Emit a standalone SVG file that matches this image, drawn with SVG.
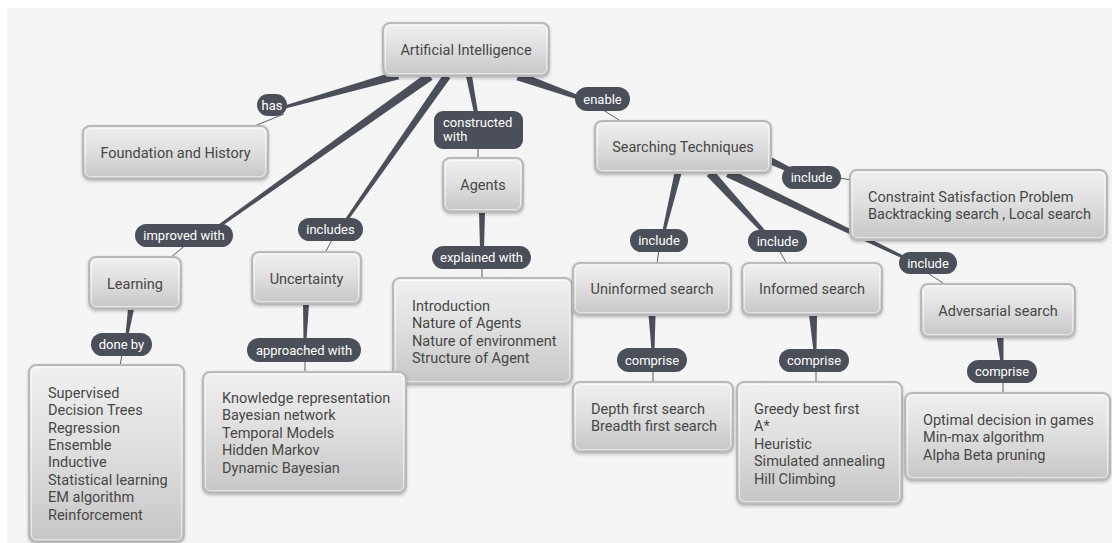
<svg xmlns="http://www.w3.org/2000/svg" width="1112" height="543" viewBox="0 0 1112 543">
<defs>
<pattern id="dots" width="4" height="4" patternUnits="userSpaceOnUse">
<rect width="4" height="4" fill="#f6f6f6"/>
<rect x="1" y="1" width="1" height="1" fill="#ebebeb"/>
<rect x="3" y="3" width="1" height="1" fill="#ededed"/>
</pattern>
<linearGradient id="g" x1="0" y1="0" x2="0" y2="1">
<stop offset="0" stop-color="#f0f0f0"/>
<stop offset="0.45" stop-color="#e0e0e0"/>
<stop offset="1" stop-color="#c6c6c6"/>
</linearGradient>
<filter id="sh" x="-10%" y="-10%" width="120%" height="130%">
<feDropShadow dx="0" dy="1.5" stdDeviation="1.5" flood-color="#000" flood-opacity="0.22"/>
</filter>
<style>
.b{fill:url(#g);stroke:#b9b9b9;stroke-width:2;filter:url(#sh)}
.i{fill:none;stroke:#ffffff;stroke-opacity:0.55;stroke-width:1}
.t{font-family:Roboto,"Liberation Sans",sans-serif;font-size:14.5px;fill:#474747}
.c{text-anchor:middle}
.lb{fill:#4b4f5a}
.lt{font-family:Roboto,"Liberation Sans",sans-serif;font-size:13px;fill:#ffffff;text-anchor:middle}
.w{fill:#4b4f5a}
.th{stroke:#5b5f69;stroke-width:1;fill:none}
</style>
</defs>
<rect width="1112" height="543" fill="#ffffff"/>
<rect x="7" y="8" width="1105" height="535" fill="url(#dots)"/>

<g id="connectors">
<polygon class="w" points="396.8,70.7 284.6,105.6 285.4,108.4 399.2,79.3"/>
<line class="th" x1="284" y1="114" x2="252" y2="127"/>
<polygon class="w" points="427.4,72.3 214.1,227.8 215.9,230.2 432.6,79.7"/>
<line class="th" x1="188" y1="243" x2="170" y2="258"/>
<polygon class="w" points="443.7,73.7 343.8,221.1 346.2,222.9 450.3,78.3"/>
<line class="th" x1="334" y1="236" x2="325" y2="253"/>
<polygon class="w" points="466.05,76.56 474.04,113.37 477.96,112.63 471.95,75.44"/>
<line class="th" x1="478" y1="146" x2="478" y2="159"/>
<polygon class="w" points="516.5,80.2 579.3,99.9 580.7,96.1 519.5,71.8"/>
<line class="th" x1="600" y1="108" x2="622" y2="122"/>
<polygon class="w" points="479,212 480,248 484,248 485,212"/>
<line class="th" x1="482" y1="266" x2="482" y2="279"/>
<polygon class="w" points="128,309 125.5,335 128.5,335 134,309"/>
<line class="th" x1="122" y1="354" x2="120" y2="366"/>
<polygon class="w" points="303,304 303.5,340 306.5,340 309,304"/>
<line class="th" x1="305" y1="359" x2="305" y2="373"/>
<polygon class="w" points="674.6,172.2 662.5,230.6 665.5,231.4 681.4,173.8"/>
<line class="th" x1="659" y1="249" x2="657" y2="264"/>
<polygon class="w" points="706.7,176 762.5,233.4 765.5,230.7 713.3,170"/>
<line class="th" x1="779" y1="250" x2="787" y2="264"/>
<polygon class="w" points="769.5,164.2 788.9,172.3 791.1,167.7 772.5,157.8"/>
<line class="th" x1="839" y1="178" x2="852" y2="180"/>
<polygon class="w" points="726.05,177.05 904.35,259.35 905.65,256.65 729.95,168.95"/>
<line class="th" x1="926" y1="272" x2="946" y2="285"/>
<polygon class="w" points="648.5,315 651.5,350 654.5,350 655.5,315"/>
<line class="th" x1="653" y1="370" x2="653" y2="383"/>
<polygon class="w" points="809,315 813.5,351 816.5,351 817,315"/>
<line class="th" x1="816" y1="370" x2="816" y2="383"/>
<polygon class="w" points="996.5,337 1000.5,362 1003.5,362 1003.5,337"/>
<line class="th" x1="1003" y1="381" x2="1003" y2="394"/>
</g>

<g id="labels">
<g id="lbl-has"><rect class="lb" x="257" y="94" width="30" height="22" rx="11"/><text class="lt" x="272" y="109.5">has</text></g>
<g id="lbl-improved"><rect class="lb" x="135" y="224" width="98" height="23" rx="11.5"/><text class="lt" x="184" y="240">improved with</text></g>
<g id="lbl-includes"><rect class="lb" x="298" y="218" width="65" height="23" rx="11.5"/><text class="lt" x="330.5" y="234">includes</text></g>
<g id="lbl-constructed"><rect class="lb" x="434" y="111" width="89" height="38" rx="9"/><text class="lt" x="443" y="126.5" style="text-anchor:start">constructed</text><text class="lt" x="443" y="141" style="text-anchor:start">with</text></g>
<g id="lbl-enable"><rect class="lb" x="575" y="87" width="55" height="24" rx="12"/><text class="lt" x="602.5" y="103.5">enable</text></g>
<g id="lbl-explained"><rect class="lb" x="432" y="246" width="99" height="23" rx="11.5"/><text class="lt" x="481.5" y="262">explained with</text></g>
<g id="lbl-doneby"><rect class="lb" x="91" y="333" width="61" height="23" rx="11.5"/><text class="lt" x="121.5" y="349">done by</text></g>
<g id="lbl-approached"><rect class="lb" x="247" y="338" width="114" height="24" rx="12"/><text class="lt" x="304" y="354.5">approached with</text></g>
<g id="lbl-include1"><rect class="lb" x="630" y="229" width="58" height="23" rx="11.5"/><text class="lt" x="659" y="245">include</text></g>
<g id="lbl-include2"><rect class="lb" x="748" y="230" width="59" height="22" rx="11"/><text class="lt" x="777.5" y="245.5">include</text></g>
<g id="lbl-include3"><rect class="lb" x="782" y="166" width="59" height="23" rx="11.5"/><text class="lt" x="811.5" y="182">include</text></g>
<g id="lbl-include4"><rect class="lb" x="899" y="252" width="58" height="22" rx="11"/><text class="lt" x="928" y="267.5">include</text></g>
<g id="lbl-comprise1"><rect class="lb" x="617" y="348" width="70" height="24" rx="12"/><text class="lt" x="652" y="364.5">comprise</text></g>
<g id="lbl-comprise2"><rect class="lb" x="779" y="349" width="70" height="23" rx="11.5"/><text class="lt" x="814" y="365">comprise</text></g>
<g id="lbl-comprise3"><rect class="lb" x="967" y="360" width="70" height="23" rx="11.5"/><text class="lt" x="1002" y="376">comprise</text></g>
</g>

<g id="node-ai"><rect class="b" x="383" y="23" width="166" height="53" rx="7"/><rect class="i" x="385.5" y="25.5" width="161" height="48" rx="5"/><text class="t c" x="466" y="54.5">Artificial Intelligence</text></g>
<g id="node-foundation"><rect class="b" x="83" y="126" width="185" height="53" rx="7"/><rect class="i" x="85.5" y="128.5" width="180" height="48" rx="5"/><text class="t c" x="175.5" y="157.5">Foundation and History</text></g>
<g id="node-agents"><rect class="b" x="443" y="158" width="80" height="54" rx="7"/><rect class="i" x="445.5" y="160.5" width="75" height="49" rx="5"/><text class="t c" x="483" y="189.5">Agents</text></g>
<g id="node-searching"><rect class="b" x="595" y="121" width="176" height="52" rx="7"/><rect class="i" x="597.5" y="123.5" width="171" height="47" rx="5"/><text class="t c" x="683" y="152">Searching Techniques</text></g>
<g id="node-csp"><rect class="b" x="850" y="170" width="257" height="70" rx="7"/><rect class="i" x="852.5" y="172.5" width="252" height="65" rx="5"/><text class="t" x="868" y="201.5">Constraint Satisfaction Problem</text><text class="t" x="868" y="219">Backtracking search , Local search</text></g>
<g id="node-learning"><rect class="b" x="89" y="257" width="92" height="52" rx="7"/><rect class="i" x="91.5" y="259.5" width="87" height="47" rx="5"/><text class="t c" x="135" y="288.5">Learning</text></g>
<g id="node-uncertainty"><rect class="b" x="252" y="252" width="109" height="52" rx="7"/><rect class="i" x="254.5" y="254.5" width="104" height="47" rx="5"/><text class="t c" x="306.5" y="283.5">Uncertainty</text></g>
<g id="node-intro"><rect class="b" x="393" y="278" width="179" height="106" rx="7"/><rect class="i" x="395.5" y="280.5" width="174" height="101" rx="5"/><text class="t" x="412" y="310.5">Introduction</text><text class="t" x="412" y="328">Nature of Agents</text><text class="t" x="412" y="345.5">Nature of environment</text><text class="t" x="412" y="363">Structure of Agent</text></g>
<g id="node-uninformed"><rect class="b" x="573" y="263" width="158" height="52" rx="7"/><rect class="i" x="575.5" y="265.5" width="153" height="47" rx="5"/><text class="t c" x="652" y="293.5">Uninformed search</text></g>
<g id="node-informed"><rect class="b" x="742" y="263" width="140" height="52" rx="7"/><rect class="i" x="744.5" y="265.5" width="135" height="47" rx="5"/><text class="t c" x="812" y="293.5">Informed search</text></g>
<g id="node-adversarial"><rect class="b" x="921" y="284" width="154" height="53" rx="7"/><rect class="i" x="923.5" y="286.5" width="149" height="48" rx="5"/><text class="t c" x="998" y="315.5">Adversarial search</text></g>
<g id="node-supervised"><rect class="b" x="29" y="365" width="155" height="177" rx="7"/><rect class="i" x="31.5" y="367.5" width="150" height="172" rx="5"/><text class="t" x="48" y="397.5">Supervised</text><text class="t" x="48" y="415">Decision Trees</text><text class="t" x="48" y="432.5">Regression</text><text class="t" x="48" y="449.5">Ensemble</text><text class="t" x="48" y="467">Inductive</text><text class="t" x="48" y="484.5">Statistical learning</text><text class="t" x="48" y="502">EM algorithm</text><text class="t" x="48" y="519.5">Reinforcement</text></g>
<g id="node-knowledge"><rect class="b" x="203" y="372" width="203" height="121" rx="7"/><rect class="i" x="205.5" y="374.5" width="198" height="116" rx="5"/><text class="t" x="222" y="402.5">Knowledge representation</text><text class="t" x="222" y="420">Bayesian network</text><text class="t" x="222" y="437.5">Temporal Models</text><text class="t" x="222" y="455">Hidden Markov</text><text class="t" x="222" y="472.5">Dynamic Bayesian</text></g>
<g id="node-depth"><rect class="b" x="573" y="382" width="160" height="70" rx="7"/><rect class="i" x="575.5" y="384.5" width="155" height="65" rx="5"/><text class="t" x="591" y="413.5">Depth first search</text><text class="t" x="591" y="431">Breadth first search</text></g>
<g id="node-greedy"><rect class="b" x="737" y="382" width="165" height="122" rx="7"/><rect class="i" x="739.5" y="384.5" width="160" height="117" rx="5"/><text class="t" x="754" y="413.5">Greedy best first</text><text class="t" x="754" y="431">A*</text><text class="t" x="754" y="448.5">Heuristic</text><text class="t" x="754" y="466">Simulated annealing</text><text class="t" x="754" y="483.5">Hill Climbing</text></g>
<g id="node-optimal"><rect class="b" x="905" y="393" width="205" height="87" rx="7"/><rect class="i" x="907.5" y="395.5" width="200" height="82" rx="5"/><text class="t" x="923" y="424.5">Optimal decision in games</text><text class="t" x="923" y="442">Min-max algorithm</text><text class="t" x="923" y="459.5">Alpha Beta pruning</text></g>
</svg>
